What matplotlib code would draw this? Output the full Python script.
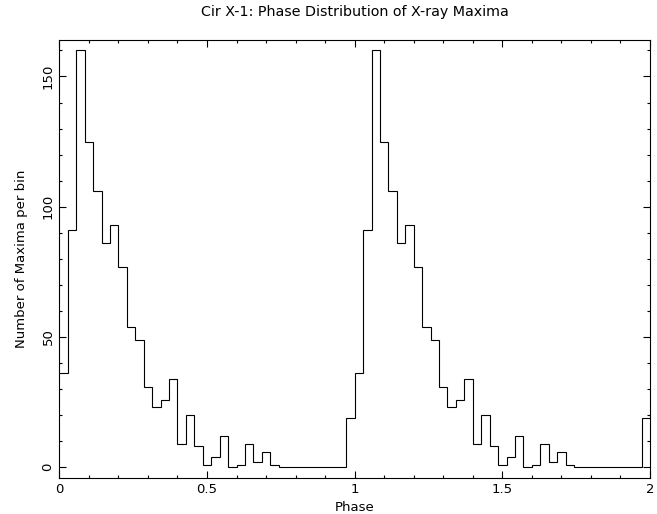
import numpy as np
import matplotlib
matplotlib.use("Agg")
import matplotlib.pyplot as plt
from matplotlib.ticker import MultipleLocator, FormatStrFormatter

# counts of X-ray maxima per phase bin (one orbital cycle, 35 bins)
counts = [36, 91, 160, 125, 106, 86, 93, 77, 54, 49,
          31, 23, 26, 34, 9, 20, 8, 1, 4, 12,
          0, 1, 9, 2, 6, 1, 0, 0, 0, 0,
          0, 0, 0, 0, 19]
n_cycles = 2

# plotted over two cycles, as in the original
values = np.tile(counts, n_cycles)
edges = np.linspace(0, n_cycles, len(values) + 1)

plt.rcParams['font.family'] = 'DejaVu Sans'
plt.rcParams['font.size'] = 9.5

fig = plt.figure(figsize=(6.57, 5.14), dpi=100)
ax = fig.add_axes([0.0903, 0.0706, 0.899, 0.8516])

ax.stairs(values, edges, baseline=None, color='black', lw=0.8)

ax.set_xlim(0, 2)
ax.set_ylim(-4, 164)

ax.xaxis.set_major_locator(MultipleLocator(0.5))
ax.xaxis.set_minor_locator(MultipleLocator(0.1))
ax.xaxis.set_major_formatter(FormatStrFormatter('%g'))
ax.yaxis.set_major_locator(MultipleLocator(50))
ax.yaxis.set_minor_locator(MultipleLocator(10))

ax.tick_params(which='both', direction='in', top=True, right=True, width=0.8)
ax.tick_params(which='major', length=5)
ax.tick_params(which='minor', length=2.5)
for lab in ax.get_yticklabels():
    lab.set_rotation(90)
    lab.set_va('center')
for s in ax.spines.values():
    s.set_linewidth(0.8)

ax.set_xlabel('Phase', labelpad=4)
ax.set_ylabel('Number of Maxima per bin', labelpad=10)
ax.set_title('Cir X-1: Phase Distribution of X-ray Maxima', fontsize=10.3, pad=17)

fig.savefig('out.png', dpi=100)
